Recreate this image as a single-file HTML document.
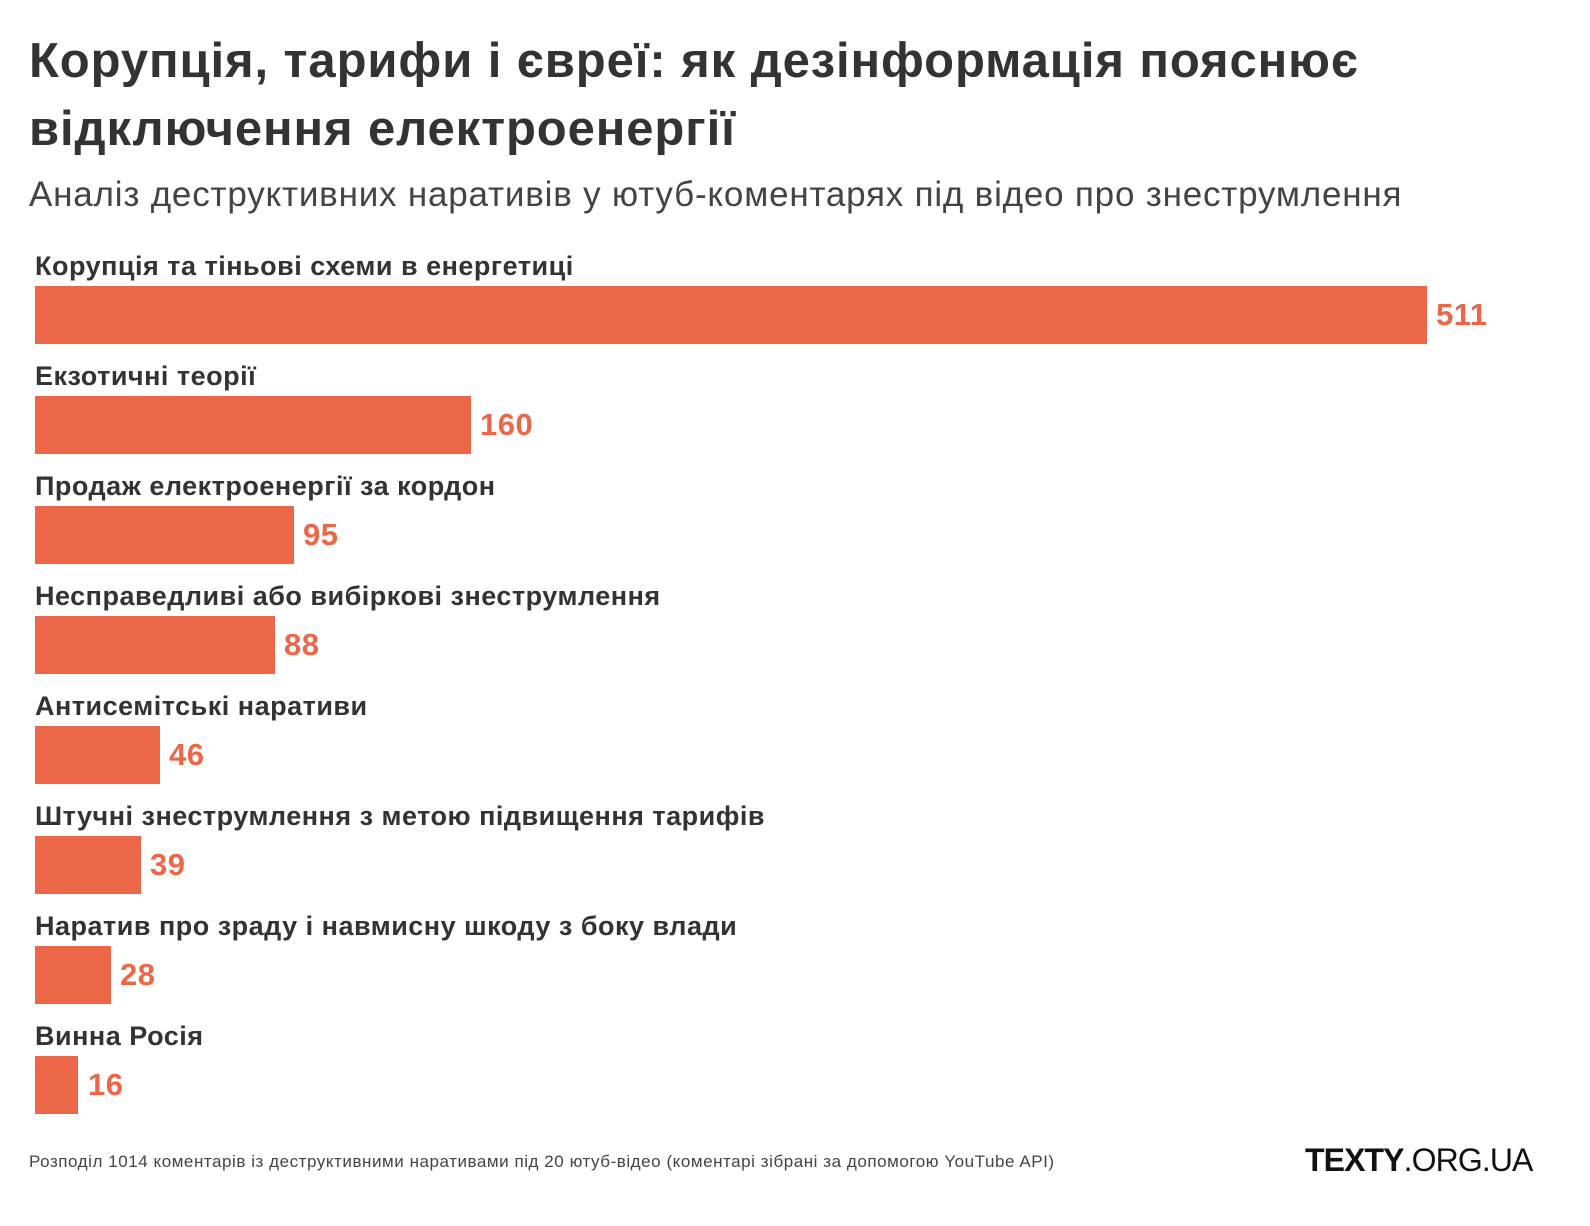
<!DOCTYPE html>
<html><head><meta charset="utf-8"><style>
body{margin:0;width:1590px;height:1226px;background:#fff;font-family:"Liberation Sans","DejaVu Sans",sans-serif;position:relative;overflow:hidden;color:#333}
.t{position:absolute;left:29px;font-weight:bold;font-size:49px;color:#333;line-height:68px;top:27px;letter-spacing:0.9px}
.s{position:absolute;left:29px;top:175px;font-size:35px;color:#444;letter-spacing:0.8px}
.l{position:absolute;left:35px;font-weight:bold;font-size:27px;color:#333;letter-spacing:0.5px}
.b{position:absolute;left:35px;height:58px;background:#ec6748}
.v{position:absolute;font-weight:bold;font-size:31px;color:#ec6748;letter-spacing:0.5px}
.f{position:absolute;left:29px;top:1152px;font-size:17px;color:#444;letter-spacing:0.55px}
.logo{position:absolute;left:1305px;top:1142px;font-size:32px;color:#111;letter-spacing:-0.9px}
</style></head><body>
<div class="t">Корупція, тарифи і євреї: як дезінформація пояснює<br>відключення електроенергії</div>
<div class="s">Аналіз деструктивних наративів у ютуб-коментарях під відео про знеструмлення</div>

<div class="l" style="top:251px">Корупція та тіньові схеми в енергетиці</div>
<div class="b" style="top:286px;width:1392px"></div><div class="v" style="top:297px;left:1436px">511</div>

<div class="l" style="top:361px">Екзотичні теорії</div>
<div class="b" style="top:396px;width:436px"></div><div class="v" style="top:407px;left:480px">160</div>

<div class="l" style="top:471px">Продаж електроенергії за кордон</div>
<div class="b" style="top:506px;width:259px"></div><div class="v" style="top:517px;left:303px">95</div>

<div class="l" style="top:581px">Несправедливі або вибіркові знеструмлення</div>
<div class="b" style="top:616px;width:240px"></div><div class="v" style="top:627px;left:284px">88</div>

<div class="l" style="top:691px">Антисемітські наративи</div>
<div class="b" style="top:726px;width:125px"></div><div class="v" style="top:737px;left:169px">46</div>

<div class="l" style="top:801px">Штучні знеструмлення з метою підвищення тарифів</div>
<div class="b" style="top:836px;width:106px"></div><div class="v" style="top:847px;left:150px">39</div>

<div class="l" style="top:911px">Наратив про зраду і навмисну шкоду з боку влади</div>
<div class="b" style="top:946px;width:76px"></div><div class="v" style="top:957px;left:120px">28</div>

<div class="l" style="top:1021px">Винна Росія</div>
<div class="b" style="top:1056px;width:43px"></div><div class="v" style="top:1067px;left:88px">16</div>

<div class="f">Розподіл 1014 коментарів із деструктивними наративами під 20 ютуб-відео (коментарі зібрані за допомогою YouTube API)</div>
<div class="logo"><b>TEXTY</b>.ORG.UA</div>
</body></html>
